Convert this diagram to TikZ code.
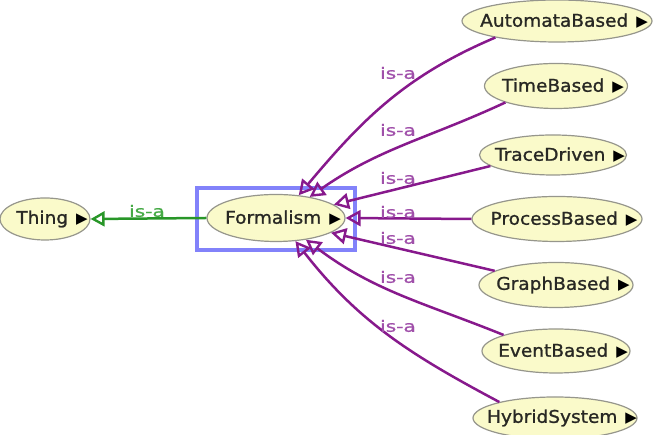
\documentclass[tikz,border=0pt]{standalone}
\usepackage{fontspec}
\setmainfont[FakeBold=1.2,FakeStretch=1.06]{DejaVu Sans}
\newfontfamily\lblfont[FakeStretch=1.3,FakeBold=1]{DejaVu Sans}
\newfontfamily\trifont{DejaVu Sans}
\usetikzlibrary{arrows.meta,shapes.geometric}
\definecolor{ellfill}{RGB}{250,250,202}
\definecolor{ellborder}{RGB}{150,150,140}
\definecolor{isapurple}{RGB}{135,25,140}
\definecolor{lblpurple}{RGB}{160,80,170}
\definecolor{isagreen}{RGB}{40,150,40}
\definecolor{lblgreen}{RGB}{70,170,70}
\definecolor{selblue}{RGB}{130,130,250}
\definecolor{txtcol}{RGB}{40,40,36}
\newcommand{\expandtri}{\hspace{8pt}{\trifont\color{black}\fontsize{15}{15}\selectfont ▶}}
\begin{document}
\begin{tikzpicture}[x=1pt,y=1pt,
  cls/.style={ellipse, draw=ellborder, fill=ellfill, line width=1.2pt, inner sep=0pt},
  clstext/.style={inner sep=0pt, text=txtcol, font=\fontsize{17.5}{17.5}\selectfont, xshift=7pt},
  isa/.style={draw=isapurple, line width=2.5pt,
    -{Triangle[open, length=15pt, width=16pt, line width=2.4pt]}},
  supisa/.style={draw=isagreen, line width=2.5pt,
    -{Triangle[open, length=14pt, width=15pt, line width=2.4pt]}},
  isalbl/.style={inner sep=0pt, text=lblpurple, font=\lblfont\fontsize{15.5}{15.5}\selectfont},
  supisalbl/.style={inner sep=0pt, text=lblgreen, font=\lblfont\fontsize{15.5}{15.5}\selectfont},
  selbox/.style={draw=selblue, line width=3.5pt, inner sep=0pt}
]
\useasboundingbox (0,0) rectangle (657,435);
% classes
\node[cls, minimum width=90, minimum height=42] (thing) at (45,216) {};
\node[clstext] (thingt) at (thing.center) {Thing\expandtri};
\node[cls, minimum width=138, minimum height=47] (form) at (276,217) {};
\node[clstext] (formt) at (form.center) {Formalism\expandtri};
\node[cls, minimum width=190, minimum height=42] (auto) at (557,414) {};
\node[clstext] (autot) at (auto.center) {AutomataBased\expandtri};
\node[cls, minimum width=143, minimum height=45] (time) at (556,349) {};
\node[clstext] (timet) at (time.center) {TimeBased\expandtri};
\node[cls, minimum width=147, minimum height=40] (trace) at (553,280) {};
\node[clstext] (tracet) at (trace.center) {TraceDriven\expandtri};
\node[cls, minimum width=170, minimum height=45] (proc) at (557,216) {};
\node[clstext] (proct) at (proc.center) {ProcessBased\expandtri};
\node[cls, minimum width=154, minimum height=45] (graph) at (556,150) {};
\node[clstext] (grapht) at (graph.center) {GraphBased\expandtri};
\node[cls, minimum width=148, minimum height=44] (event) at (556,84) {};
\node[clstext] (eventt) at (event.center) {EventBased\expandtri};
\node[cls, minimum width=164, minimum height=42] (hyb) at (555,17) {};
\node[clstext] (hybt) at (hyb.center) {HybridSystem\expandtri};
% selection box
\node[selbox, minimum width=158, minimum height=62] (sel) at (276,216) {};
% connectors
\draw[supisa] (form.west) -- (thing.east);
\draw[isa] (auto.195) to[out=203, in=50] (form.45);
\draw[isa] (time.198) to[out=205, in=35] (form.32);
\draw[isa] (trace.190) -- (form.13);
\draw[isa] (proc.west) -- (form.east);
\draw[isa] (graph.167) -- (form.-15);
\draw[isa] (event.163) to[out=158, in=-37] (form.-36);
\draw[isa] (hyb.164) to[out=152, in=-52] (form.-50);
% labels
\node[supisalbl] (l0) at (147,224) {is-a};
\node[isalbl] (l1) at (398,362) {is-a};
\node[isalbl] (l2) at (398,305) {is-a};
\node[isalbl] (l3) at (398,257) {is-a};
\node[isalbl] (l4) at (398,223) {is-a};
\node[isalbl] (l5) at (398,197) {is-a};
\node[isalbl] (l6) at (398,158) {is-a};
\node[isalbl] (l7) at (398,109) {is-a};
\end{tikzpicture}
\end{document}
